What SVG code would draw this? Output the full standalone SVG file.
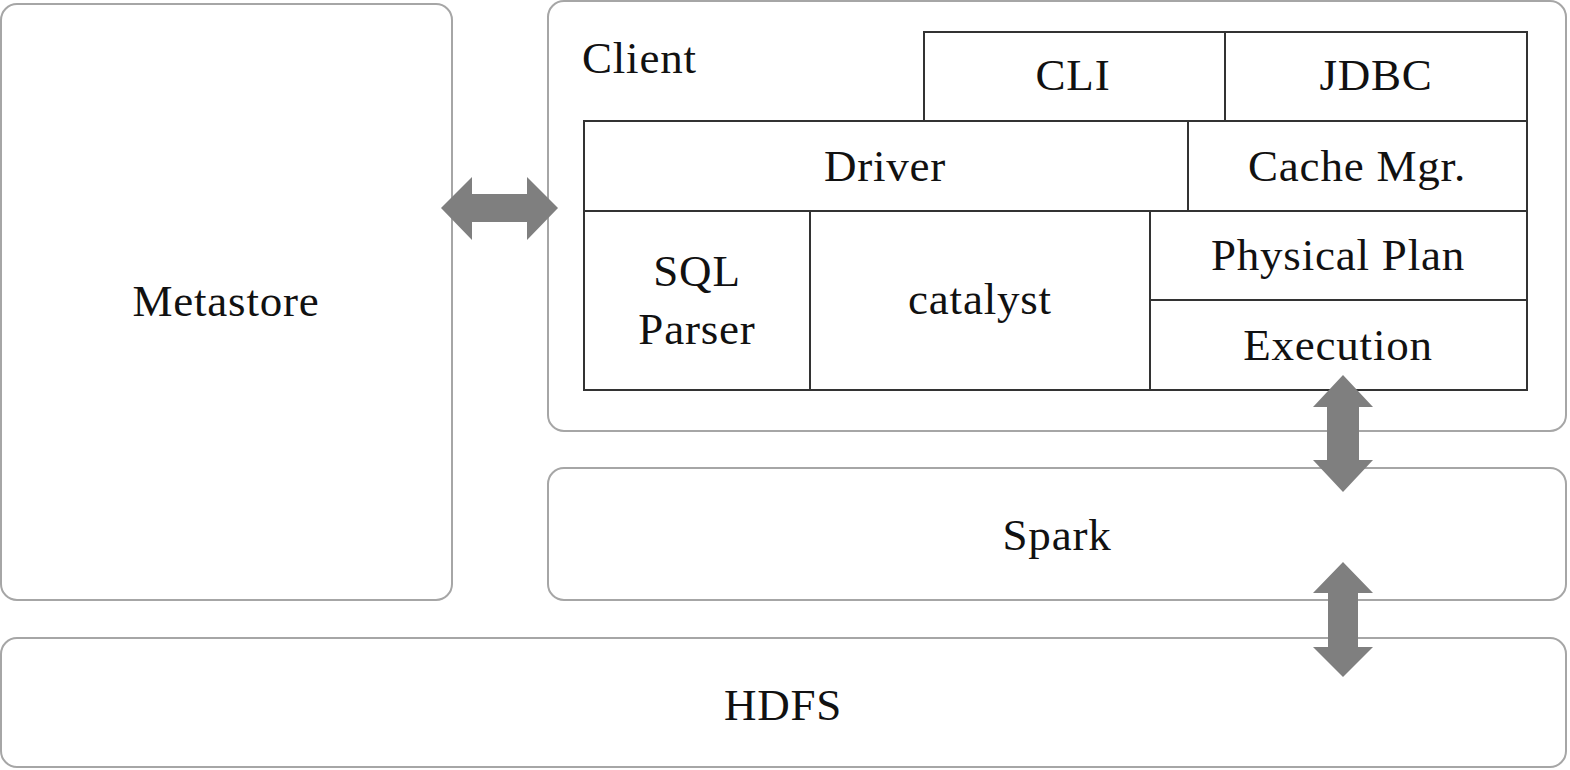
<svg xmlns="http://www.w3.org/2000/svg" width="1570" height="770" viewBox="0 0 1570 770">
<style>
.outer{fill:#fff;stroke:#a6a6a6;stroke-width:2}
.inner{fill:#fff;stroke:#333;stroke-width:2}
.t{font-family:"Liberation Serif","Times New Roman",serif;font-size:45px;letter-spacing:0.8px;fill:#111;text-anchor:middle}
.arrow{fill:#7f7f7f}
</style>
<rect width="1570" height="770" fill="#fff"/>
<g id="metastore"><rect class="outer" x="1" y="4" width="451" height="596" rx="16"/><text class="t" x="226" y="316">Metastore</text></g>
<g id="client"><rect class="outer" x="548" y="1" width="1018" height="430" rx="16"/><text class="t" x="582" y="73" style="text-anchor:start">Client</text></g>
<g id="cli"><rect class="inner" x="924" y="32" width="301" height="89"/><text class="t" x="1073" y="90">CLI</text></g>
<g id="jdbc"><rect class="inner" x="1225" y="32" width="302" height="89"/><text class="t" x="1376" y="90">JDBC</text></g>
<g id="driver"><rect class="inner" x="584" y="121" width="604" height="90"/><text class="t" x="885" y="181">Driver</text></g>
<g id="cache"><rect class="inner" x="1188" y="121" width="339" height="90"/><text class="t" x="1357" y="181">Cache Mgr.</text></g>
<g id="sqlparser"><rect class="inner" x="584" y="211" width="226" height="179"/><text class="t" x="697" y="286">SQL</text><text class="t" x="697" y="344">Parser</text></g>
<g id="catalyst"><rect class="inner" x="810" y="211" width="340" height="179"/><text class="t" x="980" y="314">catalyst</text></g>
<g id="physical"><rect class="inner" x="1150" y="211" width="377" height="89"/><text class="t" x="1338" y="270">Physical Plan</text></g>
<g id="execution"><rect class="inner" x="1150" y="300" width="377" height="90"/><text class="t" x="1338" y="360">Execution</text></g>
<g id="spark"><rect class="outer" x="548" y="468" width="1018" height="132" rx="16"/><text class="t" x="1057" y="550">Spark</text></g>
<g id="hdfs"><rect class="outer" x="1" y="638" width="1565" height="129" rx="16"/><text class="t" x="783" y="720">HDFS</text></g>
<g id="connectors">
<polygon class="arrow" points="441,208 472,177 472,194 527,194 527,177 558,208 527,240 527,222 472,222 472,240"/>
<polygon class="arrow" points="1343,375 1373,407 1359,407 1359,460 1373,460 1343,492 1313,460 1327,460 1327,407 1313,407"/>
<polygon class="arrow" points="1343,562 1373,593 1358,593 1358,647 1373,647 1343,677 1313,647 1328,647 1328,593 1313,593"/>
</g>
</svg>
